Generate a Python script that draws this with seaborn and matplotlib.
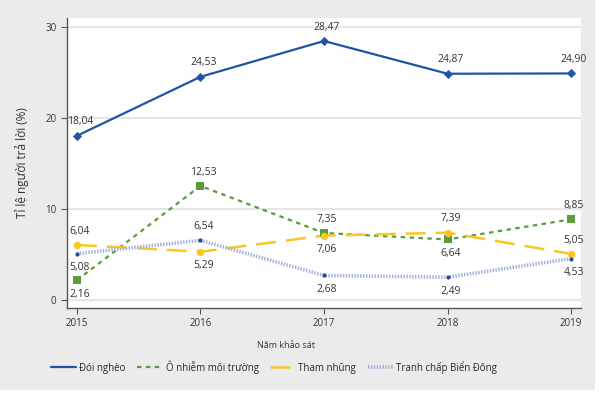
import matplotlib
matplotlib.use("Agg")
import matplotlib.pyplot as plt
import seaborn as sns
from matplotlib.patches import Rectangle

years = [2015, 2016, 2017, 2018, 2019]
poverty = [18.04, 24.53, 28.47, 24.87, 24.90]
pollution = [2.16, 12.53, 7.35, 6.64, 8.85]
corruption = [6.04, 5.29, 7.06, 7.39, 5.05]
east_sea = [5.08, 6.54, 2.68, 2.49, 4.53]
series_names = ["Đói nghèo", "Ô nhiễm môi trường", "Tham nhũng", "Tranh chấp Biển Đông"]

# label placement per point: +1 above, -1 below
pos_poverty = [1, 1, 1, 1, 1]
pos_pollution = [-1, 1, 1, -1, 1]
pos_corruption = [1, -1, -1, 1, 1]
pos_east_sea = [-1, 1, -1, -1, -1]

sns.set_style("white")
plt.rcParams["font.family"] = ["Open Sans", "DejaVu Sans"]

fig = plt.figure(figsize=(5.99, 4.19), dpi=100)
fig.patches.append(Rectangle((0, 1 - 390 / 419), 595 / 599, 390 / 419,
                             transform=fig.transFigure, facecolor="#ebebeb",
                             edgecolor="none", zorder=-10))
ax = fig.add_axes([67 / 599, 1 - 308 / 419, 514 / 599, 290 / 419])
ax.set_facecolor("white")

# (values, label side, line style, marker style)
styles = [
    (poverty, pos_poverty,
     dict(color="#1f55a4", linestyle="-", linewidth=1.6),
     dict(marker="D", s=22, color="#1f55a4")),
    (pollution, pos_pollution,
     dict(color="#5b9b3c", linestyle=(0, (2, 2)), linewidth=1.6),
     dict(marker="s", s=36, color="#5b9b3c")),
    (corruption, pos_corruption,
     dict(color="#f9c623", linestyle=(0, (8, 4)), linewidth=1.8),
     dict(marker="o", s=28, color="#f9c623")),
    (east_sea, pos_east_sea,
     dict(color="#a3b0dc", linestyle=(0, (0.4, 0.4)), linewidth=2.6),
     dict(marker="o", s=9, color="#2a4898")),
]

for name, (vals, pos, lkw, mkw) in zip(series_names, styles):
    sns.lineplot(x=years, y=vals, ax=ax, label=name, **lkw)
    sns.scatterplot(x=years, y=vals, ax=ax, linewidth=0, zorder=4, **mkw)
    for x, v, p in zip(years, vals, pos):
        ax.annotate(f"{v:.2f}".replace(".", ","), (x, v),
                    xytext=(2, 10 if p > 0 else -10), textcoords="offset points",
                    ha="center", va="center", fontsize=7.5, color="#333333",
                    zorder=5)

ax.set_xlim(2014.92, 2019.08)
ax.set_ylim(-0.9, 31)
ax.set_xticks(years)
ax.set_yticks([0, 10, 20, 30])
ax.yaxis.grid(True, color="#e6e6e6", linewidth=1.5)
ax.set_axisbelow(True)
for s in ["top", "right"]:
    ax.spines[s].set_visible(False)
for s in ["left", "bottom"]:
    ax.spines[s].set_color("#555555")
    ax.spines[s].set_linewidth(1)
ax.tick_params(axis="both", which="both", length=4, width=0.8, color="#555555",
               labelsize=7, labelcolor="#333333", direction="out",
               left=True, bottom=True)
ax.set_xlabel("Năm khảo sát", fontsize=6.5, color="#333333")
ax.xaxis.set_label_coords((286 - 67) / 514, -0.115)
ax.set_ylabel("Tỉ lệ người trả lời (%)", fontsize=8.5, color="#333333", labelpad=12)

handles, labels = ax.get_legend_handles_labels()
ax.get_legend().remove()
fig.legend(handles[:4], labels[:4], loc="center", bbox_to_anchor=(274 / 599, 1 - 367 / 419),
           ncol=4, frameon=False, fontsize=7, handlelength=2.6, handletextpad=0.3,
           columnspacing=1.2)

fig.savefig("out.png", dpi=100, facecolor="white")
